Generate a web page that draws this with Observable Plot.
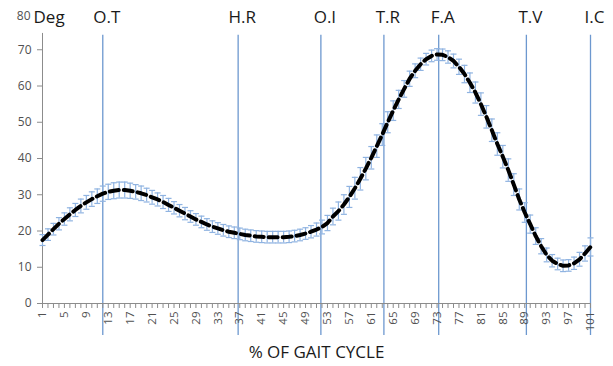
<!DOCTYPE html>
<html><head><meta charset="utf-8">
<script src="https://cdn.jsdelivr.net/npm/d3@7"></script>
<script src="https://cdn.jsdelivr.net/npm/@observablehq/plot@0.6"></script>
<style>body{margin:0;background:#fff}</style>
</head><body><div id="chart"></div>
<script>
const gaitPercent = [1,2,3,4,5,6,7,8,9,10,11,12,13,14,15,16,17,18,19,20,21,22,23,24,25,26,27,28,29,30,31,32,33,34,35,36,37,38,39,40,41,42,43,44,45,46,47,48,49,50,51,52,53,54,55,56,57,58,59,60,61,62,63,64,65,66,67,68,69,70,71,72,73,74,75,76,77,78,79,80,81,82,83,84,85,86,87,88,89,90,91,92,93,94,95,96,97,98,99,100,101];
const meanAngle = [
17.5,19.0,20.5,22.0,23.3,24.6,25.8,26.9,27.9,28.8,
29.6,30.3,30.8,31.1,31.3,31.3,31.1,30.8,30.4,29.9,
29.3,28.7,28.0,27.2,26.4,25.6,24.8,24.0,23.2,22.5,
21.8,21.2,20.7,20.2,19.8,19.5,19.2,18.9,18.7,18.5,
18.4,18.3,18.3,18.3,18.3,18.4,18.6,18.9,19.3,19.8,
20.4,21.1,22.2,24.0,25.5,27.3,29.4,31.8,34.4,37.2,
40.2,43.4,46.6,50.0,53.2,56.3,59.2,62.0,64.2,66.0,
67.4,68.3,68.7,68.6,68.0,66.9,65.3,63.3,60.9,58.2,
55.0,51.5,47.8,44.0,40.5,36.8,32.8,28.7,25.1,21.9,
18.6,15.8,13.4,11.8,10.9,10.4,10.5,11.1,12.2,13.8,15.6];
const sdAngle = [
1.5,1.6,1.6,1.7,1.7,1.8,1.8,1.9,1.9,2.0,
2.0,2.1,2.1,2.2,2.2,2.2,2.1,2.0,2.0,1.9,
1.9,1.8,1.8,1.8,1.7,1.7,1.7,1.6,1.6,1.6,
1.6,1.6,1.6,1.6,1.6,1.6,1.6,1.6,1.6,1.6,
1.6,1.6,1.6,1.6,1.6,1.6,1.6,1.6,1.6,1.7,
1.8,1.9,2.1,2.3,2.5,2.7,2.9,3.0,3.1,3.1,
3.1,3.1,3.0,2.9,2.7,2.5,2.3,2.1,1.9,1.7,
1.6,1.6,1.6,1.6,1.7,1.9,2.1,2.4,2.7,2.9,
3.1,3.1,3.1,3.1,3.1,3.1,3.0,2.9,2.7,2.5,
2.3,2.1,1.9,1.7,1.6,1.6,1.6,1.7,1.9,2.1,2.5];
const eventNames = ["O.T","H.R","O.I","T.R","F.A","T.V","I.C"];
const eventPositions = [12, 36.7, 51.8, 63.3, 73.3, 89.3, 101];
const xTickLabels = [1,5,9,13,17,21,25,29,33,37,41,45,49,53,57,61,65,69,73,77,81,85,89,93,97,101];
const yTicks = [0,10,20,30,40,50,60,70];
const yTopLabel = ["80"];
const yUnit = ["Deg"];
const xTitle = "% OF GAIT CYCLE";

const data = gaitPercent.map((g, i) => ({g, m: meanAngle[i], sd: sdAngle[i]}));
const events = eventNames.map((n, i) => ({n, x: eventPositions[i]}));

const axisGray = "#8c8c8c";
const barBlue = "#8fb3e1";
const eventBlue = "#6d98cf";
const textFont = "Open Sans";
const capHalf = 0.55;

const chart = Plot.plot({
  width: 613, height: 366,
  marginLeft: 42, marginRight: 23, marginTop: 13, marginBottom: 63,
  x: {domain: [1, 101]},
  y: {domain: [0, 80]},
  style: {fontFamily: textFont, background: "white", overflow: "visible"},
  marks: [
    Plot.ruleX(events, {x: "x", y1: -8.8, y2: 74, stroke: eventBlue, strokeWidth: 1.3}),
    Plot.ruleY([0], {stroke: axisGray}),
    Plot.ruleX([1], {y1: 0, y2: 74.5, stroke: axisGray}),
    Plot.axisX({ticks: gaitPercent, tickSize: 5, tickFormat: () => "", stroke: axisGray, label: null}),
    Plot.axisX({ticks: xTickLabels, tickSize: 0, tickRotate: -90, tickPadding: 8, fontSize: 11.5, fill: "#505050", label: null}),
    Plot.axisY({ticks: yTicks, tickSize: 5, tickPadding: 6, fontSize: 12, fill: "#505050", stroke: axisGray, label: null}),
    Plot.text(yTopLabel, {x: 1, y: 79.2, text: d => d, dx: -12, textAnchor: "end", fontSize: 12, fill: "#505050"}),
    Plot.ruleX(data, {x: "g", y1: d => d.m - d.sd, y2: d => d.m + d.sd, stroke: barBlue, strokeWidth: 1.2}),
    Plot.link(data, {x1: d => d.g - capHalf, x2: d => d.g + capHalf, y1: d => d.m + d.sd, y2: d => d.m + d.sd, stroke: barBlue, strokeWidth: 1.2}),
    Plot.link(data, {x1: d => d.g - capHalf, x2: d => d.g + capHalf, y1: d => d.m - d.sd, y2: d => d.m - d.sd, stroke: barBlue, strokeWidth: 1.2}),
    Plot.line(data, {x: "g", y: "m", stroke: "black", strokeWidth: 4, strokeDasharray: "9,5"}),
    Plot.text(events, {x: "x", y: 79, text: "n", dx: 4, fontSize: 17, fill: "#1a1a1a"}),
    Plot.text(yUnit, {x: 1, y: 79, text: d => d, dx: -9, textAnchor: "start", fontSize: 17, fill: "#1a1a1a"}),
    Plot.text([xTitle], {x: 51, y: -13.5, text: d => d, fontSize: 17, fill: "#1a1a1a"})
  ]
});
document.getElementById("chart").append(chart);
</script>
</body></html>
